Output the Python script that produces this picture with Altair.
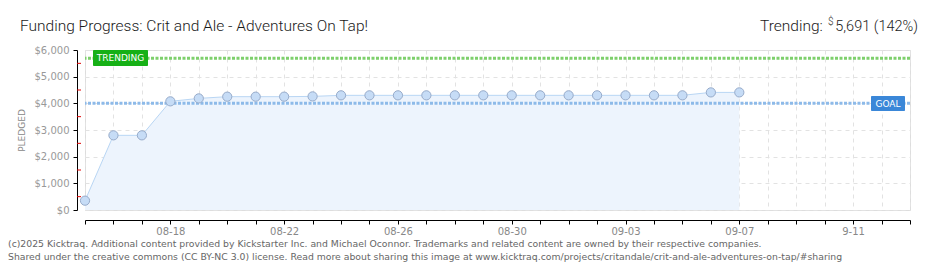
import altair as alt
import pandas as pd

# ---- data ----
dates = ["08-15", "08-16", "08-17", "08-18", "08-19", "08-20", "08-21", "08-22",
         "08-23", "08-24", "08-25", "08-26", "08-27", "08-28", "08-29", "08-30",
         "08-31", "09-01", "09-02", "09-03", "09-04", "09-05", "09-06", "09-07"]
pledged = [350, 2800, 2800, 4075, 4185, 4250, 4250, 4250,
           4260, 4300, 4300, 4300, 4300, 4300, 4300, 4300,
           4300, 4300, 4300, 4300, 4300, 4300, 4410, 4410]
goal = 4000
trending = 5691
n_days = 30  # 08-15 .. 09-13
tick_label_pos = [3, 7, 11, 15, 19, 23, 27]
tick_labels = ["08-18", "08-22", "08-26", "08-30", "09-03", "09-07", "9-11"]
y_ticks = [0, 1000, 2000, 3000, 4000, 5000, 6000]
y_minor = [500, 1500, 2500, 3500, 4500, 5500]

title_text = "Funding Progress: Crit and Ale - Adventures On Tap!"
footer1 = ("(c)2025 Kicktraq. Additional content provided by Kickstarter Inc. and Michael Oconnor. "
           "Trademarks and related content are owned by their respective companies.")
footer2 = ("Shared under the creative commons (CC BY-NC 3.0) license. Read more about sharing this image "
           "at www.kicktraq.com/projects/critandale/crit-and-ale-adventures-on-tap/#sharing")

df = pd.DataFrame({"day": list(range(len(dates))), "date": dates, "pledged": pledged})
minor_df = pd.DataFrame({"v": y_minor})

W, H = 825, 160

label_expr = " : ".join(f"datum.value == {p} ? '{l}'" for p, l in zip(tick_label_pos, tick_labels)) + " : ''"

xscale = alt.Scale(domain=[0, n_days - 1], nice=False, zero=False)
yscale = alt.Scale(domain=[0, 6000], nice=False)

xaxis = alt.Axis(values=list(range(n_days)), tickCount=200, labelExpr=label_expr, title=None,
                 offset=10, domainColor="#000", tickColor="#000", tickSize=4,
                 labelColor="#888", labelFont="DejaVu Sans", labelFontSize=10,
                 labelPadding=2, labelOverlap=False, labelFlush=False,
                 grid=True, gridColor="#e2e2e2", gridDash=[4, 4])
yaxis = alt.Axis(values=y_ticks, tickCount=200, format="$,d", title="PLEDGED", offset=8,
                 domainColor="#000", tickColor="#000", tickSize=4,
                 labelColor="#999", labelFont="DejaVu Sans", labelFontSize=10,
                 labelPadding=4, labelOverlap=False,
                 grid=True, gridColor="#e2e2e2", gridDash=[4, 4],
                 titleColor="#888", titleFont="DejaVu Sans", titleFontSize=9,
                 titleFontWeight="normal", titlePadding=8)

base = alt.Chart(df)

area = base.mark_area(color="#edf4fd", opacity=1).encode(
    x=alt.X("day:Q", scale=xscale, axis=xaxis),
    y=alt.Y("pledged:Q", scale=yscale, axis=yaxis),
)
line = base.mark_line(color="#b9d6f4", strokeWidth=1).encode(x="day:Q", y="pledged:Q")
pts = base.mark_point(filled=True, shape="circle", size=85, fill="#c6dcf6",
                      stroke="#97abca", strokeWidth=1, opacity=1).encode(x="day:Q", y="pledged:Q")

goal_rule = alt.Chart(pd.DataFrame({"g": [goal]})).mark_rule(
    color="#8dbae9", strokeWidth=3, strokeDash=[3, 1.5]).encode(y="g:Q")
trend_rule = alt.Chart(pd.DataFrame({"t": [trending]})).mark_rule(
    color="#7ed06c", strokeWidth=3, strokeDash=[3, 1.5]).encode(y="t:Q")

minor = alt.Chart(minor_df).mark_rule(color="#e00000", strokeWidth=1).encode(
    y="v:Q", x=alt.value(-8), x2=alt.value(-4))

one = pd.DataFrame({"a": [0]})
trend_box = alt.Chart(one).mark_rect(color="#16b016", cornerRadius=1).encode(
    x=alt.value(8), x2=alt.value(63), y=alt.value(0), y2=alt.value(16))
trend_lbl = alt.Chart(one).mark_text(text="TRENDING", color="white", font="DejaVu Sans",
                                     fontSize=9, align="center", baseline="middle").encode(
    x=alt.value(35.5), y=alt.value(8))
goal_box = alt.Chart(one).mark_rect(color="#3a87d8", cornerRadius=1).encode(
    x=alt.value(786), x2=alt.value(820), y=alt.value(46), y2=alt.value(61))
goal_lbl = alt.Chart(one).mark_text(text="GOAL", color="white", font="DejaVu Sans",
                                    fontSize=9, align="center", baseline="middle").encode(
    x=alt.value(803), y=alt.value(53.5))

tfont = dict(color="#1a1a1a", font="Roboto", fontWeight=300, baseline="alphabetic")
title = alt.Chart(one).mark_text(text=title_text, fontSize=15.5, align="left", **tfont).encode(
    x=alt.value(-65), y=alt.value(-19))
tr1 = alt.Chart(one).mark_text(text="Trending:", fontSize=15.5, align="left", **tfont).encode(
    x=alt.value(675), y=alt.value(-19))
tr2 = alt.Chart(one).mark_text(text="$", fontSize=10, align="left", **tfont).encode(
    x=alt.value(743), y=alt.value(-25))
tr3 = alt.Chart(one).mark_text(text="5,691 (142%)", fontSize=14.5, align="right", **tfont).encode(
    x=alt.value(833), y=alt.value(-19))

f1 = alt.Chart(one).mark_text(text=footer1, color="#666", font="DejaVu Sans", fontSize=9.3,
                              align="left", baseline="alphabetic").encode(
    x=alt.value(-77), y=alt.value(197))
f2 = alt.Chart(one).mark_text(text=footer2, color="#666", font="DejaVu Sans", fontSize=9.3,
                              align="left", baseline="alphabetic").encode(
    x=alt.value(-77), y=alt.value(210))

chart = alt.layer(area, line, goal_rule, trend_rule, pts, minor,
                  trend_box, trend_lbl, goal_box, goal_lbl,
                  title, tr1, tr2, tr3, f1, f2).properties(
    width=W, height=H,
    padding={"left": 77, "top": 42, "right": 22, "bottom": 52},
    autosize=alt.AutoSizeParams(type="none"),
).configure_view(stroke=None).configure(background="white")

chart.save("out.html", embed_options={"renderer": "svg", "actions": False})
